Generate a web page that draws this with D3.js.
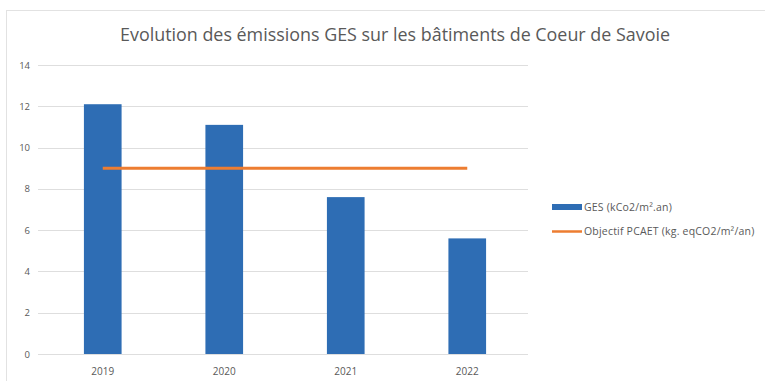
<!DOCTYPE html>
<html>
<head>
<meta charset="utf-8">
<script src="https://cdn.jsdelivr.net/npm/d3@7"></script>
<style>
  html, body { margin: 0; padding: 0; background: #fff; }
  svg { display: block; }
</style>
</head>
<body>
<svg id="chart" width="765" height="381"></svg>
<script>
// Emissions per year (bars) and the PCAET target (line)
const years = ["2019", "2020", "2021", "2022"];
const gesValues = [12.1, 11.1, 7.6, 5.6];
const targetValues = [9, 9, 9, 9];
const yTicks = [0, 2, 4, 6, 8, 10, 12, 14];
const seriesNames = ["GES (kCo2/m².an)", "Objectif PCAET (kg. eqCO2/m²/an)"];

const svg = d3.select("#chart");
const font = "'Open Sans', 'Liberation Sans', sans-serif";
const textColor = "#595959";
const blue = "#2e6db4";
const orange = "#ed7d31";

// outer chart frame
svg.append("rect")
  .attr("x", 6.5).attr("y", 10.5)
  .attr("width", 765).attr("height", 380)
  .attr("fill", "none").attr("stroke", "#e2e2e2");

const plot = { left: 42, right: 528, top: 65, bottom: 354 };

const x = d3.scaleBand().domain(years).range([plot.left, plot.right]).paddingInner(0.69).paddingOuter(0.345);
const y = d3.scaleLinear().domain([0, 14]).range([plot.bottom, plot.top]);

// title
svg.append("text")
  .attr("x", 395).attr("y", 41)
  .attr("text-anchor", "middle")
  .attr("font-family", font)
  .attr("font-size", 17.9)
  .attr("fill", textColor)
  .text("Evolution des émissions GES sur les bâtiments de Coeur de Savoie");

// horizontal gridlines
svg.append("g")
  .selectAll("line")
  .data(yTicks)
  .join("line")
  .attr("x1", plot.left - 4).attr("x2", plot.right)
  .attr("y1", d => Math.round(y(d)) + 0.5).attr("y2", d => Math.round(y(d)) + 0.5)
  .attr("stroke", "#dedede").attr("stroke-width", 1);

// y axis labels
const yAxis = d3.axisLeft(y).tickValues(yTicks).tickSize(0).tickPadding(10);
const gy = svg.append("g").attr("transform", `translate(${plot.left - 2},0)`).call(yAxis);
gy.select(".domain").remove();
gy.selectAll("text")
  .attr("font-family", font).attr("font-size", 9.5).attr("fill", textColor);

// x axis labels
const xAxis = d3.axisBottom(x).tickSize(0).tickPadding(14);
const gx = svg.append("g").attr("transform", `translate(0,${plot.bottom})`).call(xAxis);
gx.select(".domain").remove();
gx.selectAll("text")
  .attr("font-family", font).attr("font-size", 10).attr("fill", textColor);

// bars
svg.append("g")
  .selectAll("rect")
  .data(years.map((yr, i) => ({ yr, v: gesValues[i] })))
  .join("rect")
  .attr("x", d => x(d.yr))
  .attr("y", d => y(d.v))
  .attr("width", x.bandwidth())
  .attr("height", d => y(0) - y(d.v))
  .attr("fill", blue);

// target line through category centres
const line = d3.line()
  .x((d, i) => x(years[i]) + x.bandwidth() / 2)
  .y(d => y(d));
svg.append("path")
  .datum(targetValues)
  .attr("d", line)
  .attr("fill", "none")
  .attr("stroke", orange)
  .attr("stroke-width", 3);

// legend
const lg = svg.append("g").attr("font-family", font).attr("font-size", 10.5)
  .attr("letter-spacing", 0.2).attr("fill", textColor);
lg.append("rect").attr("x", 552).attr("y", 204).attr("width", 30).attr("height", 6).attr("fill", blue);
lg.append("text").attr("x", 584).attr("y", 211).text(seriesNames[0]);
lg.append("line").attr("x1", 552).attr("x2", 582).attr("y1", 231.5).attr("y2", 231.5)
  .attr("stroke", orange).attr("stroke-width", 2.5);
lg.append("text").attr("x", 584).attr("y", 235).text(seriesNames[1]);
</script>
</body>
</html>
